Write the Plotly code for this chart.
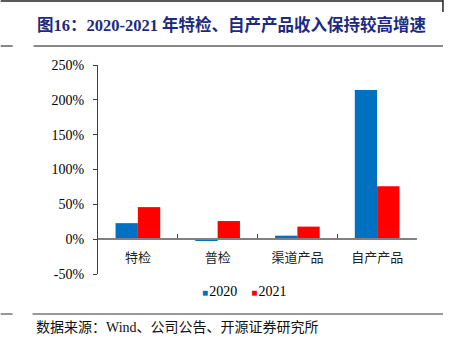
import plotly.graph_objects as go

categories = ["特检", "普检", "渠道产品", "自产产品"]
series_2020 = [23, -2, 5, 214]
series_2021 = [46, 26, 18, 76]
series_names = ["2020", "2021"]
series_colors = ["#0070C0", "#FF0000"]
y_ticks = [-50, 0, 50, 100, 150, 200, 250]
y_tick_labels = ["-50%", "0%", "50%", "100%", "150%", "200%", "250%"]

W, H = 450, 350
L, R, T, B = 97.5, 417, 65, 274


def px(x):
    return (x - L) / (R - L)


def py(y):
    return (B - y) / (B - T)


fig = go.Figure()
for name, vals, col in zip(series_names, [series_2020, series_2021], series_colors):
    fig.add_trace(go.Bar(x=categories, y=vals, name=name,
                         marker=dict(color=col, line=dict(width=0))))

serif = "Liberation Serif, Times New Roman, Noto Sans CJK SC, serif"

fig.update_layout(
    width=W, height=H,
    margin=dict(l=L, r=W - R, t=T, b=H - B),
    paper_bgcolor="white", plot_bgcolor="white",
    barmode="group", bargap=0.44, bargroupgap=0,
    showlegend=False,
    xaxis=dict(anchor="free", position=50 / 300, showline=True, linecolor="#808080",
               linewidth=1.5, ticks="inside", tickson="boundaries", ticklen=4,
               tickcolor="#404040", showgrid=False, ticklabelstandoff=6,
               tickfont=dict(family="Noto Sans CJK SC", size=13, color="#222")),
    yaxis=dict(range=[-50, 250], tickvals=y_ticks, ticktext=y_tick_labels,
               showline=True, linecolor="#404040", linewidth=1, ticks="outside",
               ticklen=4, tickcolor="#404040", showgrid=False, zeroline=False,
               ticklabelstandoff=6,
               tickfont=dict(family=serif, size=14, color="#000")),
    font=dict(family=serif),
)

shapes = [
    dict(x0=px(0), x1=px(443), y0=py(1), y1=py(1), line=dict(color="#222", width=1.5)),
    dict(x0=px(443), x1=px(443), y0=py(0), y1=py(12), line=dict(color="#222", width=1.5)),
    dict(x0=px(0), x1=px(12), y0=py(46), y1=py(46), line=dict(color="#888", width=2)),
    dict(x0=px(33), x1=px(443), y0=py(46), y1=py(46), line=dict(color="#888", width=2)),
    dict(x0=px(0), x1=px(12), y0=py(314), y1=py(314), line=dict(color="#333", width=1)),
    dict(x0=px(32), x1=px(443), y0=py(314), y1=py(314), line=dict(color="#333", width=1)),
]
for s in shapes:
    s.update(type="line", xref="paper", yref="paper")
fig.update_layout(shapes=shapes)

legend_text = "&nbsp;&nbsp;&nbsp;&nbsp;".join(
    f'<span style="color:{c};font-size:10px">■</span>&#8202;{n}'
    for n, c in zip(series_names, series_colors))
fig.add_annotation(text=legend_text, xref="paper", yref="paper",
                   x=px(244), y=py(291), xanchor="center", yanchor="middle",
                   showarrow=False, font=dict(family=serif, size=14, color="#000"))

fig.add_annotation(text="<b>图16：2020-2021 年特检、自产产品收入保持较高增速</b>",
                   xref="paper", yref="paper", x=px(34), y=py(25), xanchor="left",
                   yanchor="middle", showarrow=False,
                   font=dict(family=serif, size=16.5, color="#1C2B80"))
fig.add_annotation(text="数据来源：Wind、公司公告、开源证券研究所",
                   xref="paper", yref="paper", x=px(33), y=py(327), xanchor="left",
                   yanchor="middle", showarrow=False,
                   font=dict(family=serif, size=14, color="#111"))

fig.write_html("out.html")
